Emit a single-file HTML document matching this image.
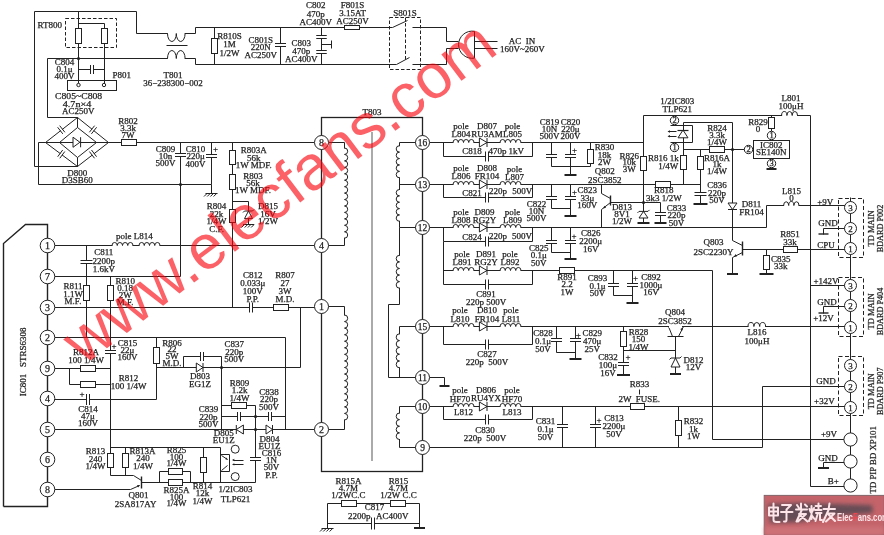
<!DOCTYPE html>
<html><head><meta charset="utf-8"><title>schematic</title>
<style>
html,body{margin:0;padding:0;background:#fff;width:884px;height:535px;overflow:hidden}
svg{display:block;will-change:transform}
</style></head><body>
<svg width="884" height="535" viewBox="0 0 884 535">
<rect width="884" height="535" fill="#fff"/>
<g fill="none" stroke="#222" stroke-width="1" stroke-linecap="butt" stroke-linejoin="miter">
<polyline points="77.5,166.5 34.5,166.5 34.5,11.5 136.5,11.5 136.5,33.5 195.5,33.5 195.5,27.5 392.5,27.5"/>
<polyline points="47.5,58.5 47.5,117.5 77.5,117.5"/>
<polyline points="47.5,58.5 195.5,58.5 195.5,64.5 396.5,64.5"/>
<polyline points="166.5,45.5 187.5,45.5"/>
<rect x="65.5" y="18.5" width="51" height="29" fill="none" stroke-dasharray="3.5,2"/>
<polyline points="78.5,11.5 78.5,85.5"/>
<polyline points="78.5,23.5 104.5,23.5 104.5,85.5"/>
<polyline points="78.5,69.5 104.5,69.5"/>
<polyline points="214.5,27.5 214.5,64.5"/>
<polyline points="280.5,27.5 280.5,64.5"/>
<polyline points="321.5,27.5 321.5,64.5"/>
<polyline points="321.5,44.5 331.5,44.5"/>
<polyline points="331.5,40.5 331.5,48.5"/>
<polyline points="412.5,27.5 446.5,27.5 446.5,41.5 458.5,41.5"/>
<polyline points="412.5,64.5 446.5,64.5 446.5,48.5 458.5,48.5"/>
<polyline points="392.5,27.5 407.5,20.5"/>
<polyline points="396.5,64.5 409.5,57.5"/>
<rect x="389.5" y="17.5" width="31" height="52" fill="none" stroke-dasharray="3.5,2"/>
<polyline points="405.5,17.5 405.5,60.5" stroke-dasharray="3.5,2"/>
<polyline points="474.5,41.5 497.5,41.5"/>
<polyline points="474.5,48.5 497.5,48.5"/>
<polyline points="77.5,117.5 45.5,142.5 77.5,166.5 108.5,142.5 77.5,117.5"/>
<polyline points="77.5,127.5 59.5,142.5 77.5,157.5 96.5,142.5 77.5,127.5"/>
<polyline points="77.5,117.5 77.5,127.5"/>
<polyline points="77.5,157.5 77.5,166.5"/>
<polyline points="45.5,142.5 108.5,142.5"/>
<polyline points="45.5,142.5 38.5,142.5 38.5,184.5 211.5,184.5 211.5,193.5"/>
<polyline points="108.5,142.5 314.5,142.5"/>
<polyline points="180.5,142.5 180.5,276.5"/>
<polyline points="211.5,142.5 211.5,184.5"/>
<polyline points="232.5,142.5 232.5,307.5"/>
<polyline points="232.5,201.5 248.5,201.5 248.5,224.5"/>
<rect x="321.5" y="117.5" width="101" height="354" fill="none" stroke-width="1.3"/>
<line x1="372" y1="132" x2="372" y2="461" stroke="#aaa" stroke-width="2"/>
<polyline points="328.5,142.5 344.5,142.5 344.5,245.5 328.5,245.5"/>
<polyline points="328.5,306.5 344.5,306.5 344.5,429.5 328.5,429.5"/>
<polyline points="416.5,142.5 399.5,142.5 399.5,227.5 416.5,227.5"/>
<polyline points="399.5,184.5 416.5,184.5"/>
<polyline points="399.5,227.5 399.5,304.5 388.5,304.5 388.5,377.5 416.5,377.5"/>
<polyline points="416.5,326.5 399.5,326.5 399.5,377.5"/>
<polyline points="416.5,406.5 399.5,406.5 399.5,447.5 416.5,447.5"/>
<polyline points="429.5,142.5 643.5,142.5"/>
<polyline points="443.5,142.5 443.5,156.5 532.5,156.5 532.5,142.5"/>
<polyline points="429.5,184.5 700.5,184.5"/>
<polyline points="443.5,184.5 443.5,197.5 532.5,197.5 532.5,184.5"/>
<polyline points="429.5,227.5 766.5,227.5"/>
<polyline points="443.5,227.5 443.5,241.5 532.5,241.5 532.5,227.5"/>
<polyline points="443.5,241.5 443.5,284.5"/>
<polyline points="443.5,270.5 712.5,270.5 712.5,439.5 844.5,439.5"/>
<polyline points="443.5,284.5 532.5,284.5 532.5,270.5"/>
<polyline points="429.5,326.5 845.5,326.5"/>
<polyline points="443.5,326.5 443.5,344.5 532.5,344.5 532.5,326.5"/>
<polyline points="429.5,406.5 845.5,406.5"/>
<polyline points="443.5,406.5 443.5,419.5 532.5,419.5 532.5,406.5"/>
<polyline points="429.5,377.5 444.5,377.5 444.5,386.5"/>
<polyline points="429.5,447.5 762.5,447.5 762.5,386.5 845.5,386.5"/>
<polyline points="551.5,142.5 551.5,166.5 590.5,166.5"/>
<polyline points="570.5,142.5 570.5,175.5"/>
<polyline points="590.5,142.5 590.5,166.5"/>
<polyline points="551.5,184.5 551.5,208.5 570.5,208.5"/>
<polyline points="570.5,184.5 570.5,216.5"/>
<polyline points="551.5,227.5 551.5,252.5 570.5,252.5"/>
<polyline points="570.5,227.5 570.5,259.5"/>
<polyline points="613.5,270.5 613.5,295.5 632.5,295.5"/>
<polyline points="632.5,270.5 632.5,303.5"/>
<polyline points="556.5,326.5 556.5,352.5 575.5,352.5"/>
<polyline points="575.5,326.5 575.5,359.5"/>
<polyline points="623.5,326.5 623.5,375.5"/>
<polyline points="623.5,350.5 675.5,350.5"/>
<polyline points="668.5,326.5 672.5,336.5"/>
<polyline points="678.5,336.5 683.5,326.5"/>
<polyline points="667.5,336.5 683.5,336.5"/>
<polyline points="675.5,336.5 675.5,374.5"/>
<polyline points="562.5,406.5 562.5,447.5"/>
<polyline points="595.5,406.5 595.5,447.5"/>
<polyline points="678.5,406.5 678.5,447.5"/>
<polyline points="639.5,389.5 639.5,394.5"/>
<polyline points="643.5,115.5 810.5,115.5 810.5,486.5 844.5,486.5"/>
<polyline points="643.5,115.5 643.5,202.5 643.5,223.5"/>
<polyline points="601.5,184.5 601.5,193.5 610.5,198.5"/>
<polyline points="610.5,195.5 610.5,205.5" stroke-width="1.4"/>
<polyline points="610.5,202.5 601.5,209.5 601.5,227.5"/>
<polyline points="610.5,202.5 660.5,202.5 660.5,223.5"/>
<polyline points="683.5,122.5 732.5,122.5 732.5,240.5"/>
<polyline points="732.5,257.5 732.5,274.5"/>
<polyline points="683.5,122.5 683.5,184.5"/>
<polyline points="683.5,149.5 748.5,149.5"/>
<polyline points="700.5,149.5 700.5,204.5"/>
<polyline points="670.5,125.5 692.5,125.5 692.5,142.5 670.5,142.5"/>
<polyline points="676.5,131.5 668.5,131.5"/>
<polyline points="676.5,136.5 668.5,136.5"/>
<polyline points="771.5,115.5 771.5,131.5"/>
<polyline points="771.5,167.5 771.5,169.5"/>
<polyline points="766.5,227.5 766.5,205.5 845.5,205.5"/>
<polyline points="732.5,240.5 742.5,245.5"/>
<polyline points="742.5,241.5 742.5,255.5" stroke-width="1.4"/>
<polyline points="742.5,252.5 732.5,257.5"/>
<polyline points="742.5,249.5 845.5,249.5"/>
<polyline points="766.5,249.5 766.5,274.5"/>
<polyline points="850.5,197.5 850.5,486.5"/>
<rect x="838.5" y="198.5" width="25" height="59" fill="none" stroke-dasharray="4,2.5"/>
<rect x="838.5" y="277.5" width="25" height="59" fill="none" stroke-dasharray="4,2.5"/>
<rect x="838.5" y="356.5" width="25" height="59" fill="none" stroke-dasharray="4,2.5"/>
<polyline points="810.5,285.5 845.5,285.5"/>
<polyline points="845.5,228.5 823.5,228.5 823.5,234.5"/>
<polyline points="845.5,306.5 823.5,306.5 823.5,313.5"/>
<polyline points="844.5,462.5 823.5,462.5 823.5,468.5"/>
<polyline points="3.5,506.5 3.5,243.5 25.5,224.5 47.5,224.5 47.5,506.5 3.5,506.5" stroke-width="1.4"/>
<polyline points="54.5,245.5 314.5,245.5"/>
<polyline points="86.5,245.5 86.5,337.5"/>
<polyline points="54.5,276.5 180.5,276.5"/>
<polyline points="110.5,276.5 110.5,475.5"/>
<polyline points="54.5,307.5 314.5,307.5"/>
<polyline points="300.5,307.5 300.5,367.5"/>
<polyline points="54.5,337.5 285.5,337.5 285.5,429.5"/>
<polyline points="156.5,337.5 156.5,399.5"/>
<polyline points="54.5,368.5 110.5,368.5"/>
<polyline points="69.5,368.5 69.5,384.5 110.5,384.5"/>
<polyline points="54.5,399.5 156.5,399.5"/>
<polyline points="54.5,429.5 314.5,429.5"/>
<polyline points="156.5,367.5 300.5,367.5"/>
<polyline points="183.5,367.5 183.5,356.5 221.5,356.5 221.5,429.5"/>
<polyline points="221.5,405.5 255.5,405.5 255.5,482.5"/>
<polyline points="221.5,416.5 285.5,416.5"/>
<polyline points="54.5,489.5 130.5,489.5 139.5,485.5"/>
<polyline points="141.5,476.5 141.5,488.5" stroke-width="1.4"/>
<polyline points="110.5,475.5 133.5,475.5 141.5,480.5"/>
<polyline points="125.5,447.5 125.5,475.5"/>
<polyline points="110.5,447.5 220.5,447.5 220.5,482.5"/>
<polyline points="141.5,482.5 255.5,482.5"/>
<polyline points="159.5,482.5 159.5,471.5 190.5,471.5 190.5,482.5"/>
<polyline points="203.5,447.5 203.5,482.5"/>
<polyline points="220.5,454.5 229.5,454.5"/>
<polyline points="220.5,471.5 229.5,471.5"/>
<polyline points="229.5,454.5 229.5,471.5"/>
<polyline points="221.5,455.5 227.5,459.5"/>
<polyline points="221.5,470.5 227.5,465.5"/>
<polyline points="243.5,460.5 233.5,460.5"/>
<polyline points="243.5,464.5 233.5,464.5"/>
<polyline points="327.5,528.5 327.5,503.5 419.5,503.5 419.5,528.5"/>
<polyline points="327.5,523.5 419.5,523.5"/>
<rect x="167.8" y="32" width="16.9" height="3" fill="#fff" stroke="none"/>
<path d="M167.5,33.5 A4.4,8 0 0 0 176.3,33.5 A4.4,8 0 0 0 185.1,33.5" fill="none"/>
<rect x="167.8" y="57" width="16.9" height="3" fill="#fff" stroke="none"/>
<path d="M167.5,58.5 A4.4,8 0 0 1 176.3,58.5 A4.4,8 0 0 1 185.1,58.5" fill="none"/>
<rect x="75.5" y="28.5" width="6" height="15" fill="#fff"/>
<rect x="101.5" y="28.5" width="6" height="15" fill="#fff"/>
<circle cx="78.5" cy="58.5" r="1.6" fill="#222" stroke="none"/>
<rect x="91" y="64" width="2" height="11" fill="#fff" stroke="none"/>
<polyline points="90.5,65 90.5,74"/>
<polyline points="93.5,65 93.5,74"/>
<rect x="67.5" y="80.5" width="49" height="10" fill="none"/>
<circle cx="78.5" cy="85" r="1.7" fill="#fff"/>
<circle cx="104" cy="85" r="1.7" fill="#fff"/>
<rect x="211.5" y="38.5" width="6" height="15" fill="#fff"/>
<rect x="274" y="44" width="13" height="2" fill="#fff" stroke="none"/>
<polyline points="275,43.5 286,43.5"/>
<polyline points="275,46.5 286,46.5"/>
<rect x="315.25" y="36" width="12.5" height="2" fill="#fff" stroke="none"/>
<polyline points="316.25,35.5 326.75,35.5"/>
<polyline points="316.25,38.5 326.75,38.5"/>
<rect x="315.25" y="51" width="12.5" height="2" fill="#fff" stroke="none"/>
<polyline points="316.25,50.5 326.75,50.5"/>
<polyline points="316.25,53.5 326.75,53.5"/>
<rect x="344.5" y="25.5" width="15" height="4" fill="#fff"/>
<path d="M474.5,31.3 A13.6,13.6 0 1 0 474.5,58.1 Z" fill="#fff"/>
<polygon points="73,137.2 73,147.3 79.9,142.25" fill="#fff"/>
<polyline points="80.6,137.2 80.6,147.3"/>
<polygon points="64.85,132.93 63.43,134.03 57.65,126.62 59.07,125.52" fill="#fff" stroke="none"/>
<polyline points="64.86,132.29 59.69,125.66"/>
<polyline points="62.81,133.89 57.64,127.26"/>
<polygon points="95.21,125.53 96.62,126.65 90.79,134.02 89.38,132.9" fill="#fff" stroke="none"/>
<polyline points="94.59,125.68 89.37,132.26"/>
<polyline points="96.63,127.29 91.41,133.87"/>
<polygon points="63.33,149.81 64.77,150.89 59.17,158.44 57.73,157.36" fill="#fff" stroke="none"/>
<polyline points="62.71,149.98 57.7,156.72"/>
<polyline points="64.8,151.53 59.79,158.27"/>
<polygon points="96.55,157.34 95.11,158.42 89.45,150.91 90.89,149.83" fill="#fff" stroke="none"/>
<polyline points="96.57,156.7 91.51,149.99"/>
<polyline points="94.49,158.26 89.43,151.55"/>
<polyline points="205.5,193.5 217.5,193.5"/>
<polyline points="207,193.5 204,196.5"/>
<polyline points="210.2,193.5 207.2,196.5"/>
<polyline points="213.4,193.5 210.4,196.5"/>
<polyline points="216.6,193.5 213.6,196.5"/>
<rect x="121.5" y="139.5" width="15" height="6" fill="#fff"/>
<rect x="174" y="154" width="13" height="2" fill="#fff" stroke="none"/>
<polyline points="175,153.5 186,153.5"/>
<polyline points="175,156.5 186,156.5"/>
<circle cx="180.5" cy="184.5" r="1.6" fill="#222" stroke="none"/>
<rect x="205" y="155" width="13" height="2" fill="#fff" stroke="none"/>
<polyline points="206,154.5 217,154.5"/>
<polyline points="206,157.5 217,157.5"/>
<rect x="229.5" y="150.5" width="6" height="14" fill="#fff"/>
<rect x="229.5" y="174.5" width="6" height="15" fill="#fff"/>
<rect x="229.5" y="209.5" width="6" height="13" fill="#fff"/>
<polygon points="244.5,218.6 252.5,218.6 248.5,211" fill="#fff"/>
<polyline points="243,212.5 244.5,211 252.5,211 254,209.5" fill="none"/>
<polyline points="243,224.5 254,224.5"/>
<polyline points="244.5,224.5 241.5,227.5"/>
<polyline points="247.7,224.5 244.7,227.5"/>
<polyline points="250.9,224.5 247.9,227.5"/>
<polyline points="254.1,224.5 251.1,227.5"/>
<rect x="343.7" y="148.5" width="1.6" height="89.2" fill="#fff" stroke="none"/>
<path d="M344.5,148 A3.2,3.22 0 0 1 344.5,154.44 A3.2,3.22 0 0 1 344.5,160.89 A3.2,3.22 0 0 1 344.5,167.33 A3.2,3.22 0 0 1 344.5,173.77 A3.2,3.22 0 0 1 344.5,180.21 A3.2,3.22 0 0 1 344.5,186.66 A3.2,3.22 0 0 1 344.5,193.1 A3.2,3.22 0 0 1 344.5,199.54 A3.2,3.22 0 0 1 344.5,205.99 A3.2,3.22 0 0 1 344.5,212.43 A3.2,3.22 0 0 1 344.5,218.87 A3.2,3.22 0 0 1 344.5,225.31 A3.2,3.22 0 0 1 344.5,231.76 A3.2,3.22 0 0 1 344.5,238.2" fill="none"/>
<rect x="343.7" y="315.5" width="1.6" height="104" fill="#fff" stroke="none"/>
<path d="M344.5,315 A3.2,3.28 0 0 1 344.5,321.56 A3.2,3.28 0 0 1 344.5,328.12 A3.2,3.28 0 0 1 344.5,334.69 A3.2,3.28 0 0 1 344.5,341.25 A3.2,3.28 0 0 1 344.5,347.81 A3.2,3.28 0 0 1 344.5,354.38 A3.2,3.28 0 0 1 344.5,360.94 A3.2,3.28 0 0 1 344.5,367.5 A3.2,3.28 0 0 1 344.5,374.06 A3.2,3.28 0 0 1 344.5,380.62 A3.2,3.28 0 0 1 344.5,387.19 A3.2,3.28 0 0 1 344.5,393.75 A3.2,3.28 0 0 1 344.5,400.31 A3.2,3.28 0 0 1 344.5,406.88 A3.2,3.28 0 0 1 344.5,413.44 A3.2,3.28 0 0 1 344.5,420" fill="none"/>
<rect x="398.7" y="146.2" width="1.6" height="31.1" fill="#fff" stroke="none"/>
<path d="M399.5,145.7 A3.3,3.21 0 0 0 399.5,152.12 A3.3,3.21 0 0 0 399.5,158.54 A3.3,3.21 0 0 0 399.5,164.96 A3.3,3.21 0 0 0 399.5,171.38 A3.3,3.21 0 0 0 399.5,177.8" fill="none"/>
<rect x="398.7" y="190" width="1.6" height="30.8" fill="#fff" stroke="none"/>
<path d="M399.5,189.5 A3.3,3.18 0 0 0 399.5,195.86 A3.3,3.18 0 0 0 399.5,202.22 A3.3,3.18 0 0 0 399.5,208.58 A3.3,3.18 0 0 0 399.5,214.94 A3.3,3.18 0 0 0 399.5,221.3" fill="none"/>
<rect x="398.7" y="255.8" width="1.6" height="31.9" fill="#fff" stroke="none"/>
<path d="M399.5,255.3 A3.3,3.29 0 0 0 399.5,261.88 A3.3,3.29 0 0 0 399.5,268.46 A3.3,3.29 0 0 0 399.5,275.04 A3.3,3.29 0 0 0 399.5,281.62 A3.3,3.29 0 0 0 399.5,288.2" fill="none"/>
<rect x="398.7" y="334.3" width="1.6" height="33" fill="#fff" stroke="none"/>
<path d="M399.5,333.8 A3.3,3.4 0 0 0 399.5,340.6 A3.3,3.4 0 0 0 399.5,347.4 A3.3,3.4 0 0 0 399.5,354.2 A3.3,3.4 0 0 0 399.5,361 A3.3,3.4 0 0 0 399.5,367.8" fill="none"/>
<rect x="398.7" y="413.5" width="1.6" height="25.5" fill="#fff" stroke="none"/>
<path d="M399.5,413 A3.3,3.31 0 0 0 399.5,419.62 A3.3,3.31 0 0 0 399.5,426.25 A3.3,3.31 0 0 0 399.5,432.88 A3.3,3.31 0 0 0 399.5,439.5" fill="none"/>
<circle cx="321.5" cy="142.5" r="7" fill="#fff"/>
<circle cx="321.5" cy="245.5" r="7" fill="#fff"/>
<circle cx="321.5" cy="306.5" r="7" fill="#fff"/>
<circle cx="321.5" cy="429.5" r="7" fill="#fff"/>
<circle cx="422.5" cy="142.5" r="7" fill="#fff"/>
<circle cx="422.5" cy="184.5" r="7" fill="#fff"/>
<circle cx="422.5" cy="227.5" r="7" fill="#fff"/>
<circle cx="422.5" cy="326.5" r="7" fill="#fff"/>
<circle cx="422.5" cy="377.5" r="7" fill="#fff"/>
<circle cx="422.5" cy="406.5" r="7" fill="#fff"/>
<circle cx="422.5" cy="447.5" r="7" fill="#fff"/>
<rect x="453.5" y="141.7" width="20" height="1.6" fill="#fff" stroke="none"/>
<path d="M453,142.5 A2.62,3 0 0 1 458.25,142.5 A2.62,3 0 0 1 463.5,142.5 A2.62,3 0 0 1 468.75,142.5 A2.62,3 0 0 1 474,142.5" fill="none"/>
<polygon points="479.4,138 479.4,147 487,142.5" fill="#fff"/>
<polyline points="487,138 487,147"/>
<rect x="500.5" y="141.7" width="20" height="1.6" fill="#fff" stroke="none"/>
<path d="M500,142.5 A2.62,3 0 0 1 505.25,142.5 A2.62,3 0 0 1 510.5,142.5 A2.62,3 0 0 1 515.75,142.5 A2.62,3 0 0 1 521,142.5" fill="none"/>
<rect x="486" y="150.5" width="2" height="12" fill="#fff" stroke="none"/>
<polyline points="485.5,151.5 485.5,161.5"/>
<polyline points="488.5,151.5 488.5,161.5"/>
<rect x="453.5" y="183.7" width="20" height="1.6" fill="#fff" stroke="none"/>
<path d="M453,184.5 A2.62,3 0 0 1 458.25,184.5 A2.62,3 0 0 1 463.5,184.5 A2.62,3 0 0 1 468.75,184.5 A2.62,3 0 0 1 474,184.5" fill="none"/>
<polygon points="479.4,180 479.4,189 487,184.5" fill="#fff"/>
<polyline points="487,180 487,189"/>
<rect x="500.5" y="183.7" width="20" height="1.6" fill="#fff" stroke="none"/>
<path d="M500,184.5 A2.62,3 0 0 1 505.25,184.5 A2.62,3 0 0 1 510.5,184.5 A2.62,3 0 0 1 515.75,184.5 A2.62,3 0 0 1 521,184.5" fill="none"/>
<rect x="486" y="191.5" width="2" height="12" fill="#fff" stroke="none"/>
<polyline points="485.5,192.5 485.5,202.5"/>
<polyline points="488.5,192.5 488.5,202.5"/>
<rect x="453.5" y="226.7" width="20" height="1.6" fill="#fff" stroke="none"/>
<path d="M453,227.5 A2.62,3 0 0 1 458.25,227.5 A2.62,3 0 0 1 463.5,227.5 A2.62,3 0 0 1 468.75,227.5 A2.62,3 0 0 1 474,227.5" fill="none"/>
<polygon points="479.4,223 479.4,232 487,227.5" fill="#fff"/>
<polyline points="487,223 487,232"/>
<rect x="500.5" y="226.7" width="20" height="1.6" fill="#fff" stroke="none"/>
<path d="M500,227.5 A2.62,3 0 0 1 505.25,227.5 A2.62,3 0 0 1 510.5,227.5 A2.62,3 0 0 1 515.75,227.5 A2.62,3 0 0 1 521,227.5" fill="none"/>
<rect x="486" y="235.5" width="2" height="12" fill="#fff" stroke="none"/>
<polyline points="485.5,236.5 485.5,246.5"/>
<polyline points="488.5,236.5 488.5,246.5"/>
<rect x="453.5" y="269.7" width="20" height="1.6" fill="#fff" stroke="none"/>
<path d="M453,270.5 A2.62,3 0 0 1 458.25,270.5 A2.62,3 0 0 1 463.5,270.5 A2.62,3 0 0 1 468.75,270.5 A2.62,3 0 0 1 474,270.5" fill="none"/>
<polygon points="479.4,266 479.4,275 487,270.5" fill="#fff"/>
<polyline points="487,266 487,275"/>
<rect x="500.5" y="269.7" width="20" height="1.6" fill="#fff" stroke="none"/>
<path d="M500,270.5 A2.62,3 0 0 1 505.25,270.5 A2.62,3 0 0 1 510.5,270.5 A2.62,3 0 0 1 515.75,270.5 A2.62,3 0 0 1 521,270.5" fill="none"/>
<rect x="486" y="278.5" width="2" height="12" fill="#fff" stroke="none"/>
<polyline points="485.5,279.5 485.5,289.5"/>
<polyline points="488.5,279.5 488.5,289.5"/>
<rect x="453.5" y="325.7" width="20" height="1.6" fill="#fff" stroke="none"/>
<path d="M453,326.5 A2.62,3 0 0 1 458.25,326.5 A2.62,3 0 0 1 463.5,326.5 A2.62,3 0 0 1 468.75,326.5 A2.62,3 0 0 1 474,326.5" fill="none"/>
<polygon points="479.4,322 479.4,331 487,326.5" fill="#fff"/>
<polyline points="487,322 487,331"/>
<rect x="500.5" y="325.7" width="20" height="1.6" fill="#fff" stroke="none"/>
<path d="M500,326.5 A2.62,3 0 0 1 505.25,326.5 A2.62,3 0 0 1 510.5,326.5 A2.62,3 0 0 1 515.75,326.5 A2.62,3 0 0 1 521,326.5" fill="none"/>
<rect x="486" y="338.5" width="2" height="12" fill="#fff" stroke="none"/>
<polyline points="485.5,339.5 485.5,349.5"/>
<polyline points="488.5,339.5 488.5,349.5"/>
<rect x="453.5" y="405.7" width="20" height="1.6" fill="#fff" stroke="none"/>
<path d="M453,406.5 A2.62,3 0 0 1 458.25,406.5 A2.62,3 0 0 1 463.5,406.5 A2.62,3 0 0 1 468.75,406.5 A2.62,3 0 0 1 474,406.5" fill="none"/>
<polygon points="479.4,402 479.4,411 487,406.5" fill="#fff"/>
<polyline points="487,402 487,411"/>
<rect x="500.5" y="405.7" width="20" height="1.6" fill="#fff" stroke="none"/>
<path d="M500,406.5 A2.62,3 0 0 1 505.25,406.5 A2.62,3 0 0 1 510.5,406.5 A2.62,3 0 0 1 515.75,406.5 A2.62,3 0 0 1 521,406.5" fill="none"/>
<rect x="486" y="413.5" width="2" height="12" fill="#fff" stroke="none"/>
<polyline points="485.5,414.5 485.5,424.5"/>
<polyline points="488.5,414.5 488.5,424.5"/>
<polyline points="439.5,386 449.5,386" stroke-width="2"/>
<rect x="545" y="155" width="13" height="2" fill="#fff" stroke="none"/>
<polyline points="546,154.5 557,154.5"/>
<polyline points="546,157.5 557,157.5"/>
<rect x="564" y="155" width="13" height="2" fill="#fff" stroke="none"/>
<polyline points="565,154.5 576,154.5"/>
<polyline points="565,157.5 576,157.5"/>
<polyline points="564.5,175 576.5,175" stroke-width="2"/>
<rect x="587.5" y="149.5" width="6" height="14" fill="#fff"/>
<rect x="545" y="197" width="13" height="2" fill="#fff" stroke="none"/>
<polyline points="546,196.5 557,196.5"/>
<polyline points="546,199.5 557,199.5"/>
<rect x="564" y="197" width="13" height="2" fill="#fff" stroke="none"/>
<polyline points="565,196.5 576,196.5"/>
<polyline points="565,199.5 576,199.5"/>
<polyline points="564.5,216 576.5,216" stroke-width="2"/>
<rect x="545" y="241" width="13" height="2" fill="#fff" stroke="none"/>
<polyline points="546,240.5 557,240.5"/>
<polyline points="546,243.5 557,243.5"/>
<rect x="564" y="241" width="13" height="2" fill="#fff" stroke="none"/>
<polyline points="565,240.5 576,240.5"/>
<polyline points="565,243.5 576,243.5"/>
<polyline points="564.5,259 576.5,259" stroke-width="2"/>
<rect x="559.5" y="267.5" width="15" height="6" fill="#fff"/>
<rect x="607" y="284" width="13" height="2" fill="#fff" stroke="none"/>
<polyline points="608,283.5 619,283.5"/>
<polyline points="608,286.5 619,286.5"/>
<rect x="626" y="284" width="13" height="2" fill="#fff" stroke="none"/>
<polyline points="627,283.5 638,283.5"/>
<polyline points="627,286.5 638,286.5"/>
<polyline points="626.5,303 638.5,303" stroke-width="2"/>
<rect x="550" y="339" width="13" height="2" fill="#fff" stroke="none"/>
<polyline points="551,338.5 562,338.5"/>
<polyline points="551,341.5 562,341.5"/>
<rect x="569" y="339" width="13" height="2" fill="#fff" stroke="none"/>
<polyline points="570,338.5 581,338.5"/>
<polyline points="570,341.5 581,341.5"/>
<polyline points="569.5,359 581.5,359" stroke-width="2"/>
<rect x="620.5" y="331.5" width="6" height="15" fill="#fff"/>
<rect x="617" y="363" width="13" height="2" fill="#fff" stroke="none"/>
<polyline points="618,362.5 629,362.5"/>
<polyline points="618,365.5 629,365.5"/>
<polyline points="617,375 630,375" stroke-width="2"/>
<rect x="669" y="325" width="13" height="3" fill="#fff" stroke="none"/>
<polygon points="682.6,327.4 682.62,330.4 680.26,329.28" fill="#222" stroke="none"/>
<polygon points="671,367 680,367 675.5,358" fill="#fff"/>
<polyline points="669.5,359.5 671,358 680,358 681.5,356.5" fill="none"/>
<polyline points="670,374 681,374" stroke-width="2"/>
<rect x="748.5" y="325.7" width="16.6" height="1.6" fill="#fff" stroke="none"/>
<path d="M748,326.5 A2.93,4 0 0 1 753.87,326.5 A2.93,4 0 0 1 759.73,326.5 A2.93,4 0 0 1 765.6,326.5" fill="none"/>
<rect x="556" y="425" width="13" height="2" fill="#fff" stroke="none"/>
<polyline points="557,424.5 568,424.5"/>
<polyline points="557,427.5 568,427.5"/>
<rect x="589" y="425" width="13" height="2" fill="#fff" stroke="none"/>
<polyline points="590,424.5 601,424.5"/>
<polyline points="590,427.5 601,427.5"/>
<rect x="630.5" y="403.5" width="14" height="6" fill="#fff"/>
<rect x="675.5" y="420.5" width="6" height="15" fill="#fff"/>
<rect x="640.5" y="156.5" width="6" height="14" fill="#fff"/>
<circle cx="643.5" cy="202.5" r="1.6" fill="#222" stroke="none"/>
<polygon points="639,218 648,218 643.5,211.4" fill="#fff"/>
<polyline points="637.5,212.9 639,211.4 648,211.4 649.5,209.9" fill="none"/>
<polyline points="637.5,223 649.5,223" stroke-width="2"/>
<polygon points="603.2,208.6 604.37,205.84 606.09,207.8" fill="#222" stroke="none"/>
<rect x="654" y="213" width="13" height="2" fill="#fff" stroke="none"/>
<polyline points="655,212.5 666,212.5"/>
<polyline points="655,215.5 666,215.5"/>
<polyline points="654.5,223 666.5,223" stroke-width="2"/>
<rect x="655.5" y="181.5" width="15" height="6" fill="#fff"/>
<rect x="680.5" y="155.5" width="6" height="14" fill="#fff"/>
<rect x="709.5" y="146.5" width="15" height="6" fill="#fff"/>
<circle cx="732.5" cy="149.5" r="1.6" fill="#222" stroke="none"/>
<rect x="697.5" y="156.5" width="6" height="13" fill="#fff"/>
<rect x="693.5" y="193" width="14" height="2" fill="#fff" stroke="none"/>
<polyline points="694.5,192.5 706.5,192.5"/>
<polyline points="694.5,195.5 706.5,195.5"/>
<polyline points="693.5,204 707.5,204" stroke-width="2"/>
<polygon points="678,137.8 688,137.8 683,130" fill="#fff"/>
<polyline points="677.5,130.5 688.5,130.5" stroke-width="1.2"/>
<polygon points="667.5,131.5 670.02,130.28 670.02,132.72" fill="#222" stroke="none"/>
<polygon points="667.5,136.3 670.02,135.08 670.02,137.52" fill="#222" stroke="none"/>
<circle cx="674.5" cy="120.5" r="4.2" fill="#fff"/>
<circle cx="674.5" cy="147.5" r="4.2" fill="#fff"/>
<polygon points="728,203 737,203 732.5,209.5" fill="#fff"/>
<polyline points="728,209.5 737,209.5"/>
<rect x="768.5" y="117.5" width="6" height="11" fill="#fff"/>
<rect x="753.5" y="140.5" width="36" height="18" fill="#fff"/>
<circle cx="771.5" cy="135.5" r="4.2" fill="#fff"/>
<circle cx="748.5" cy="149.5" r="4.2" fill="#fff"/>
<circle cx="771.5" cy="163.5" r="4.2" fill="#fff"/>
<polyline points="766.5,169 776.5,169" stroke-width="2"/>
<rect x="782.1" y="114.7" width="14.9" height="1.6" fill="#fff" stroke="none"/>
<path d="M781.6,115.5 A2.65,4 0 0 1 786.9,115.5 A2.65,4 0 0 1 792.2,115.5 A2.65,4 0 0 1 797.5,115.5" fill="none"/>
<rect x="784.1" y="204.7" width="14.4" height="1.6" fill="#fff" stroke="none"/>
<path d="M783.6,205.5 A2.57,4 0 0 1 788.73,205.5 A2.57,4 0 0 1 793.87,205.5 A2.57,4 0 0 1 799,205.5" fill="none"/>
<polygon points="734,256.6 735.69,254.12 736.99,256.38" fill="#222" stroke="none"/>
<polyline points="727,274 738,274" stroke-width="2"/>
<rect x="783.5" y="246.5" width="14" height="6" fill="#fff"/>
<rect x="763.5" y="255.5" width="6" height="14" fill="#fff"/>
<polyline points="759.5,274 773.5,274" stroke-width="2"/>
<circle cx="850.5" cy="207.5" r="6" fill="#fff"/>
<circle cx="850.5" cy="228.5" r="6" fill="#fff"/>
<circle cx="850.5" cy="248.5" r="6" fill="#fff"/>
<circle cx="850.5" cy="285.5" r="6" fill="#fff"/>
<circle cx="850.5" cy="305.5" r="6" fill="#fff"/>
<circle cx="850.5" cy="327.5" r="6" fill="#fff"/>
<circle cx="850.5" cy="365.5" r="6" fill="#fff"/>
<circle cx="850.5" cy="386.5" r="6" fill="#fff"/>
<circle cx="850.5" cy="407.5" r="6" fill="#fff"/>
<circle cx="850.5" cy="439.5" r="6.6" fill="#fff"/>
<circle cx="850.5" cy="461.5" r="6.6" fill="#fff"/>
<circle cx="850.5" cy="485.5" r="6.6" fill="#fff"/>
<polyline points="818.5,234 828.5,234" stroke-width="1.4"/>
<polyline points="818.5,313 828.5,313" stroke-width="1.4"/>
<polyline points="818,468 829,468" stroke-width="2"/>
<rect x="112.5" y="244.7" width="20" height="1.6" fill="#fff" stroke="none"/>
<path d="M112,245.5 A2.62,3 0 0 1 117.25,245.5 A2.62,3 0 0 1 122.5,245.5 A2.62,3 0 0 1 127.75,245.5 A2.62,3 0 0 1 133,245.5" fill="none"/>
<rect x="139.5" y="244.7" width="20" height="1.6" fill="#fff" stroke="none"/>
<path d="M139,245.5 A2.62,3 0 0 1 144.25,245.5 A2.62,3 0 0 1 149.5,245.5 A2.62,3 0 0 1 154.75,245.5 A2.62,3 0 0 1 160,245.5" fill="none"/>
<rect x="79.5" y="261" width="14" height="2" fill="#fff" stroke="none"/>
<polyline points="80.5,260.5 92.5,260.5"/>
<polyline points="80.5,263.5 92.5,263.5"/>
<rect x="83.5" y="285.5" width="6" height="15" fill="#fff"/>
<rect x="107.5" y="285.5" width="6" height="15" fill="#fff"/>
<rect x="104" y="351" width="13" height="2" fill="#fff" stroke="none"/>
<polyline points="105,350.5 116,350.5"/>
<polyline points="105,353.5 116,353.5"/>
<rect x="250" y="301.5" width="2" height="12" fill="#fff" stroke="none"/>
<polyline points="249.5,302.5 249.5,312.5"/>
<polyline points="252.5,302.5 252.5,312.5"/>
<rect x="273.5" y="304.5" width="15" height="6" fill="#fff"/>
<rect x="153.5" y="347.5" width="6" height="16" fill="#fff"/>
<rect x="80.5" y="365.5" width="15" height="6" fill="#fff"/>
<rect x="80.5" y="381.5" width="15" height="6" fill="#fff"/>
<rect x="87" y="393" width="2" height="13" fill="#fff" stroke="none"/>
<polyline points="86.5,394 86.5,405"/>
<polyline points="89.5,394 89.5,405"/>
<polygon points="243.4,425 243.4,434 236.3,429.5" fill="#fff"/>
<polyline points="236.3,425 236.3,434"/>
<polygon points="266,425 266,434 272.5,429.5" fill="#fff"/>
<polyline points="272.5,425 272.5,434"/>
<circle cx="255.5" cy="429.5" r="1.6" fill="#222" stroke="none"/>
<polygon points="196.3,363 196.3,372 203,367.5" fill="#fff"/>
<polyline points="203,363 203,372"/>
<rect x="201" y="351" width="2" height="11" fill="#fff" stroke="none"/>
<polyline points="200.5,352 200.5,361"/>
<polyline points="203.5,352 203.5,361"/>
<circle cx="221.5" cy="367.5" r="1.6" fill="#222" stroke="none"/>
<rect x="231.5" y="402.5" width="15" height="6" fill="#fff"/>
<rect x="238" y="411" width="2" height="11" fill="#fff" stroke="none"/>
<polyline points="237.5,412 237.5,421"/>
<polyline points="240.5,412 240.5,421"/>
<rect x="269" y="411" width="2" height="11" fill="#fff" stroke="none"/>
<polyline points="268.5,412 268.5,421"/>
<polyline points="271.5,412 271.5,421"/>
<circle cx="255.5" cy="416.5" r="1.6" fill="#222" stroke="none"/>
<rect x="249" y="458" width="13" height="2" fill="#fff" stroke="none"/>
<polyline points="250,457.5 261,457.5"/>
<polyline points="250,460.5 261,460.5"/>
<polygon points="140,485.2 138.05,487.48 137,485.09" fill="#222" stroke="none"/>
<rect x="107.5" y="453.5" width="6" height="14" fill="#fff"/>
<rect x="122.5" y="453.5" width="6" height="14" fill="#fff"/>
<rect x="168.5" y="468.5" width="14" height="6" fill="#fff"/>
<rect x="168.5" y="479.5" width="14" height="6" fill="#fff"/>
<rect x="200.5" y="457.5" width="6" height="15" fill="#fff"/>
<polygon points="227.8,459.8 225.24,459.37 226.54,457.53" fill="#222" stroke="none"/>
<circle cx="235.2" cy="449.2" r="4" fill="#fff"/>
<circle cx="235.2" cy="476.6" r="4" fill="#fff"/>
<polygon points="232,460 234.34,458.87 234.34,461.13" fill="#222" stroke="none"/>
<polygon points="232,464.4 234.34,463.27 234.34,465.53" fill="#222" stroke="none"/>
<circle cx="47.5" cy="245.5" r="7.3" fill="#fff"/>
<circle cx="47.5" cy="276.5" r="7.3" fill="#fff"/>
<circle cx="47.5" cy="307.5" r="7.3" fill="#fff"/>
<circle cx="47.5" cy="337.5" r="7.3" fill="#fff"/>
<circle cx="47.5" cy="368.5" r="7.3" fill="#fff"/>
<circle cx="47.5" cy="398.5" r="7.3" fill="#fff"/>
<circle cx="47.5" cy="429.5" r="7.3" fill="#fff"/>
<circle cx="47.5" cy="459.5" r="7.3" fill="#fff"/>
<circle cx="47.5" cy="489.5" r="7.3" fill="#fff"/>
<rect x="341.5" y="500.5" width="15" height="6" fill="#fff"/>
<rect x="390.5" y="500.5" width="15" height="6" fill="#fff"/>
<rect x="372" y="516.5" width="2" height="14" fill="#fff" stroke="none"/>
<polyline points="371.5,517.5 371.5,529.5"/>
<polyline points="374.5,517.5 374.5,529.5"/>
<polyline points="321.5,528.5 333.5,528.5"/>
<polyline points="323,528.5 320,531.5"/>
<polyline points="326.2,528.5 323.2,531.5"/>
<polyline points="329.4,528.5 326.4,531.5"/>
<polyline points="332.6,528.5 329.6,531.5"/>
<polyline points="414,528 425,528" stroke-width="2"/>
</g>
<g font-family="Liberation Serif, serif" fill="#1e1e1e" stroke="#1e1e1e" stroke-width="0.25">
<text x="215.5" y="152.06" text-anchor="middle" font-size="9">+</text>
<text x="321.5" y="145.9" text-anchor="middle" font-size="10">8</text>
<text x="321.5" y="248.9" text-anchor="middle" font-size="10">4</text>
<text x="321.5" y="309.9" text-anchor="middle" font-size="10">1</text>
<text x="321.5" y="432.9" text-anchor="middle" font-size="10">2</text>
<text x="422.5" y="145.73" text-anchor="middle" font-size="9.5">16</text>
<text x="422.5" y="187.73" text-anchor="middle" font-size="9.5">13</text>
<text x="422.5" y="230.73" text-anchor="middle" font-size="9.5">12</text>
<text x="422.5" y="329.73" text-anchor="middle" font-size="9.5">15</text>
<text x="422.5" y="380.73" text-anchor="middle" font-size="9.5">11</text>
<text x="422.5" y="409.73" text-anchor="middle" font-size="9.5">10</text>
<text x="422.5" y="450.73" text-anchor="middle" font-size="9.5">9</text>
<text x="574.5" y="152.56" text-anchor="middle" font-size="9">+</text>
<text x="574.5" y="194.56" text-anchor="middle" font-size="9">+</text>
<text x="574" y="239.06" text-anchor="middle" font-size="9">+</text>
<text x="635.6" y="281.06" text-anchor="middle" font-size="9">+</text>
<text x="578.4" y="338.06" text-anchor="middle" font-size="9">+</text>
<text x="628" y="360.06" text-anchor="middle" font-size="9">+</text>
<text x="599" y="423.06" text-anchor="middle" font-size="9">+</text>
<text x="674.5" y="123.39" text-anchor="middle" font-size="8.5">2</text>
<text x="674.5" y="150.39" text-anchor="middle" font-size="8.5">1</text>
<text x="771.5" y="138.39" text-anchor="middle" font-size="8.5">1</text>
<text x="748.5" y="152.39" text-anchor="middle" font-size="8.5">2</text>
<text x="771.5" y="166.39" text-anchor="middle" font-size="8.5">3</text>
<text x="850.5" y="210.56" text-anchor="middle" font-size="9">3</text>
<text x="850.5" y="231.56" text-anchor="middle" font-size="9">2</text>
<text x="850.5" y="251.56" text-anchor="middle" font-size="9">1</text>
<text x="850.5" y="288.56" text-anchor="middle" font-size="9">3</text>
<text x="850.5" y="308.56" text-anchor="middle" font-size="9">2</text>
<text x="850.5" y="330.56" text-anchor="middle" font-size="9">1</text>
<text x="850.5" y="368.56" text-anchor="middle" font-size="9">3</text>
<text x="850.5" y="389.56" text-anchor="middle" font-size="9">2</text>
<text x="850.5" y="410.56" text-anchor="middle" font-size="9">1</text>
<text x="114" y="349.46" text-anchor="middle" font-size="9">+</text>
<text x="82" y="397.06" text-anchor="middle" font-size="9">+</text>
<text x="47.5" y="248.9" text-anchor="middle" font-size="10">1</text>
<text x="47.5" y="279.9" text-anchor="middle" font-size="10">7</text>
<text x="47.5" y="310.9" text-anchor="middle" font-size="10">3</text>
<text x="47.5" y="340.9" text-anchor="middle" font-size="10">2</text>
<text x="47.5" y="371.9" text-anchor="middle" font-size="10">9</text>
<text x="47.5" y="401.9" text-anchor="middle" font-size="10">4</text>
<text x="47.5" y="432.9" text-anchor="middle" font-size="10">5</text>
<text x="47.5" y="462.9" text-anchor="middle" font-size="10">6</text>
<text x="47.5" y="492.9" text-anchor="middle" font-size="10">8</text>
<text x="37.5" y="28.06" text-anchor="start" font-size="9">RT800</text>
<text x="64.5" y="65.06" text-anchor="middle" font-size="9">C804</text>
<text x="64.5" y="72.26" text-anchor="middle" font-size="9">0.1μ</text>
<text x="64.5" y="79.46" text-anchor="middle" font-size="9">400V</text>
<text x="112.5" y="78.06" text-anchor="start" font-size="9">P801</text>
<text x="78.6" y="99.06" text-anchor="middle" font-size="9" textLength="47.2" lengthAdjust="spacingAndGlyphs">C805~C808</text>
<text x="77" y="106.56" text-anchor="middle" font-size="9" textLength="28.5" lengthAdjust="spacingAndGlyphs">4.7n×4</text>
<text x="78.2" y="114.06" text-anchor="middle" font-size="9">AC250V</text>
<text x="173" y="77.81" text-anchor="middle" font-size="9">T801</text>
<text x="173" y="85.56" text-anchor="middle" font-size="9">36−238300−002</text>
<text x="229.5" y="39.36" text-anchor="middle" font-size="9">R810S</text>
<text x="229.5" y="47.46" text-anchor="middle" font-size="9">1M</text>
<text x="229.5" y="55.56" text-anchor="middle" font-size="9">1/2W</text>
<text x="260.7" y="42.66" text-anchor="middle" font-size="9">C801S</text>
<text x="260.7" y="50.16" text-anchor="middle" font-size="9">220N</text>
<text x="260.7" y="57.66" text-anchor="middle" font-size="9">AC250V</text>
<text x="315.8" y="8.46" text-anchor="middle" font-size="9">C802</text>
<text x="315.8" y="16.66" text-anchor="middle" font-size="9">470p</text>
<text x="315.8" y="24.86" text-anchor="middle" font-size="9">AC400V</text>
<text x="352.5" y="8.46" text-anchor="middle" font-size="9">F801S</text>
<text x="352.5" y="16.16" text-anchor="middle" font-size="9">3.15AT</text>
<text x="352.5" y="23.86" text-anchor="middle" font-size="9">AC250V</text>
<text x="301.2" y="45.96" text-anchor="middle" font-size="9">C803</text>
<text x="301.2" y="53.96" text-anchor="middle" font-size="9">470p</text>
<text x="301.2" y="61.96" text-anchor="middle" font-size="9">AC400V</text>
<text x="405" y="15.56" text-anchor="middle" font-size="9">S801S</text>
<text x="508.7" y="44.06" text-anchor="start" font-size="9">AC  IN</text>
<text x="500" y="52.26" text-anchor="start" font-size="9">160V~260V</text>
<text x="128" y="124.06" text-anchor="middle" font-size="9">R802</text>
<text x="128" y="131.06" text-anchor="middle" font-size="9">3.3k</text>
<text x="128" y="138.06" text-anchor="middle" font-size="9">7W</text>
<text x="77.2" y="175.56" text-anchor="middle" font-size="9">D800</text>
<text x="77.2" y="182.56" text-anchor="middle" font-size="9">D3SB60</text>
<text x="165.5" y="151.56" text-anchor="middle" font-size="9">C809</text>
<text x="165.5" y="158.96" text-anchor="middle" font-size="9">10n</text>
<text x="165.5" y="166.36" text-anchor="middle" font-size="9">500V</text>
<text x="195.6" y="151.56" text-anchor="middle" font-size="9">C810</text>
<text x="195.6" y="159.06" text-anchor="middle" font-size="9">220μ</text>
<text x="195.6" y="166.56" text-anchor="middle" font-size="9">400V</text>
<text x="253.8" y="153.46" text-anchor="middle" font-size="9">R803A</text>
<text x="253.8" y="160.56" text-anchor="middle" font-size="9">56k</text>
<text x="253.8" y="167.66" text-anchor="middle" font-size="9">1W MDF.</text>
<text x="253" y="178.66" text-anchor="middle" font-size="9">R803</text>
<text x="253" y="186.06" text-anchor="middle" font-size="9">56k</text>
<text x="253" y="193.46" text-anchor="middle" font-size="9">1W MDF.</text>
<text x="216.6" y="209.06" text-anchor="middle" font-size="9">R804</text>
<text x="216.6" y="216.66" text-anchor="middle" font-size="9">22k</text>
<text x="216.6" y="224.26" text-anchor="middle" font-size="9">1/4W</text>
<text x="216.6" y="231.86" text-anchor="middle" font-size="9">C.F.</text>
<text x="268" y="209.06" text-anchor="middle" font-size="9">D815</text>
<text x="268" y="216.56" text-anchor="middle" font-size="9">16V</text>
<text x="268" y="224.06" text-anchor="middle" font-size="9">1/2W</text>
<text x="372" y="115.06" text-anchor="middle" font-size="9">T803</text>
<text x="461" y="128.56" text-anchor="middle" font-size="9">pole</text>
<text x="461" y="137.06" text-anchor="middle" font-size="9">L804</text>
<text x="487" y="128.56" text-anchor="middle" font-size="9">D807</text>
<text x="487" y="137.06" text-anchor="middle" font-size="9">RU3AM</text>
<text x="512.4" y="128.56" text-anchor="middle" font-size="9">pole</text>
<text x="512.4" y="137.06" text-anchor="middle" font-size="9">L805</text>
<text x="472" y="153.66" text-anchor="middle" font-size="9">C818</text>
<text x="497.5" y="153.66" text-anchor="middle" font-size="9">470p</text>
<text x="516.3" y="153.66" text-anchor="middle" font-size="9">1kV</text>
<text x="461" y="171.06" text-anchor="middle" font-size="9">pole</text>
<text x="461" y="179.06" text-anchor="middle" font-size="9">L806</text>
<text x="487" y="171.06" text-anchor="middle" font-size="9">D808</text>
<text x="487" y="179.06" text-anchor="middle" font-size="9">FR104</text>
<text x="514.5" y="172.36" text-anchor="middle" font-size="9">pole</text>
<text x="514.5" y="180.16" text-anchor="middle" font-size="9">L807</text>
<text x="472" y="195.96" text-anchor="middle" font-size="9">C821</text>
<text x="498" y="194.06" text-anchor="middle" font-size="9">220p</text>
<text x="522.3" y="194.06" text-anchor="middle" font-size="9">500V</text>
<text x="461" y="215.46" text-anchor="middle" font-size="9">pole</text>
<text x="461" y="223.16" text-anchor="middle" font-size="9">L808</text>
<text x="484.5" y="215.26" text-anchor="middle" font-size="9">D809</text>
<text x="484.5" y="222.96" text-anchor="middle" font-size="9">RG2Y</text>
<text x="512.4" y="215.26" text-anchor="middle" font-size="9">pole</text>
<text x="512.4" y="223.06" text-anchor="middle" font-size="9">L809</text>
<text x="472" y="239.66" text-anchor="middle" font-size="9">C824</text>
<text x="498" y="238.66" text-anchor="middle" font-size="9">220p</text>
<text x="522" y="238.66" text-anchor="middle" font-size="9">500V</text>
<text x="462" y="257.06" text-anchor="middle" font-size="9">pole</text>
<text x="462" y="265.46" text-anchor="middle" font-size="9">L891</text>
<text x="486" y="257.06" text-anchor="middle" font-size="9">D891</text>
<text x="486" y="265.26" text-anchor="middle" font-size="9">RG2Y</text>
<text x="510" y="257.06" text-anchor="middle" font-size="9">pole</text>
<text x="510" y="265.26" text-anchor="middle" font-size="9">L892</text>
<text x="486" y="297.06" text-anchor="middle" font-size="9">C891</text>
<text x="486" y="305.06" text-anchor="middle" font-size="9">220p 500V</text>
<text x="460" y="313.06" text-anchor="middle" font-size="9">pole</text>
<text x="460" y="322.06" text-anchor="middle" font-size="9">L810</text>
<text x="487" y="313.06" text-anchor="middle" font-size="9">D810</text>
<text x="487" y="322.06" text-anchor="middle" font-size="9">FR104</text>
<text x="511" y="313.06" text-anchor="middle" font-size="9">pole</text>
<text x="511" y="322.06" text-anchor="middle" font-size="9">L811</text>
<text x="487" y="357.46" text-anchor="middle" font-size="9">C827</text>
<text x="487" y="365.26" text-anchor="middle" font-size="9">220p  500V</text>
<text x="460" y="393.06" text-anchor="middle" font-size="9">pole</text>
<text x="460" y="402.06" text-anchor="middle" font-size="9">HF70</text>
<text x="486" y="393.06" text-anchor="middle" font-size="9">D806</text>
<text x="486" y="400.56" text-anchor="middle" font-size="9">RU4YX</text>
<text x="512" y="393.06" text-anchor="middle" font-size="9">pole</text>
<text x="512" y="402.06" text-anchor="middle" font-size="9">HF70</text>
<text x="463.6" y="415.06" text-anchor="middle" font-size="9">L812</text>
<text x="512" y="415.06" text-anchor="middle" font-size="9">L813</text>
<text x="485" y="432.66" text-anchor="middle" font-size="9">C830</text>
<text x="485" y="441.06" text-anchor="middle" font-size="9">220p  500V</text>
<text x="549.5" y="125.06" text-anchor="middle" font-size="9">C819</text>
<text x="549.5" y="132.06" text-anchor="middle" font-size="9">10N</text>
<text x="549.5" y="139.06" text-anchor="middle" font-size="9">500V</text>
<text x="570.5" y="125.06" text-anchor="middle" font-size="9">C820</text>
<text x="570.5" y="132.06" text-anchor="middle" font-size="9">220μ</text>
<text x="570.5" y="139.06" text-anchor="middle" font-size="9">200V</text>
<text x="604.4" y="150.36" text-anchor="middle" font-size="9">R830</text>
<text x="604.4" y="157.66" text-anchor="middle" font-size="9">18k</text>
<text x="604.4" y="164.96" text-anchor="middle" font-size="9">2W</text>
<text x="604.7" y="174.06" text-anchor="middle" font-size="9">Q802</text>
<text x="604.7" y="182.66" text-anchor="middle" font-size="9">2SC3852</text>
<text x="536.5" y="207.06" text-anchor="middle" font-size="9">C822</text>
<text x="536.5" y="214.06" text-anchor="middle" font-size="9">10N</text>
<text x="536.5" y="221.06" text-anchor="middle" font-size="9">500V</text>
<text x="587.3" y="193.06" text-anchor="middle" font-size="9">C823</text>
<text x="587.3" y="200.76" text-anchor="middle" font-size="9">33μ</text>
<text x="587.3" y="208.46" text-anchor="middle" font-size="9">160V</text>
<text x="538.8" y="250.76" text-anchor="middle" font-size="9">C825</text>
<text x="538.8" y="258.36" text-anchor="middle" font-size="9">0.1μ</text>
<text x="538.8" y="265.96" text-anchor="middle" font-size="9">50V</text>
<text x="590.7" y="235.66" text-anchor="middle" font-size="9">C826</text>
<text x="590.7" y="243.86" text-anchor="middle" font-size="9">2200μ</text>
<text x="590.7" y="252.06" text-anchor="middle" font-size="9">16V</text>
<text x="622" y="209.56" text-anchor="middle" font-size="9">D813</text>
<text x="622" y="216.76" text-anchor="middle" font-size="9">8V1</text>
<text x="622" y="223.96" text-anchor="middle" font-size="9">1/2W</text>
<text x="676.5" y="210.66" text-anchor="middle" font-size="9">C833</text>
<text x="676.5" y="218.16" text-anchor="middle" font-size="9">220p</text>
<text x="676.5" y="225.66" text-anchor="middle" font-size="9">50V</text>
<text x="567" y="280.06" text-anchor="middle" font-size="9">R891</text>
<text x="567" y="287.36" text-anchor="middle" font-size="9">2.2</text>
<text x="567" y="294.66" text-anchor="middle" font-size="9">1W</text>
<text x="597.5" y="281.46" text-anchor="middle" font-size="9">C893</text>
<text x="597.5" y="288.76" text-anchor="middle" font-size="9">0.1μ</text>
<text x="597.5" y="296.06" text-anchor="middle" font-size="9">50V</text>
<text x="651" y="280.06" text-anchor="middle" font-size="9">C892</text>
<text x="651" y="287.56" text-anchor="middle" font-size="9">1000μ</text>
<text x="651" y="295.06" text-anchor="middle" font-size="9">16V</text>
<text x="629.3" y="159.26" text-anchor="middle" font-size="9">R826</text>
<text x="629.3" y="165.46" text-anchor="middle" font-size="9">10k</text>
<text x="629.3" y="171.66" text-anchor="middle" font-size="9">3W</text>
<text x="663.4" y="160.96" text-anchor="middle" font-size="9">R816 1k</text>
<text x="668.3" y="168.76" text-anchor="middle" font-size="9">1/4W</text>
<text x="663.8" y="193.16" text-anchor="middle" font-size="9">R818</text>
<text x="663.8" y="200.96" text-anchor="middle" font-size="9">3k3 1/2W</text>
<text x="717" y="130.56" text-anchor="middle" font-size="9">R824</text>
<text x="717" y="137.76" text-anchor="middle" font-size="9">3.3k</text>
<text x="717" y="144.96" text-anchor="middle" font-size="9">1/4W</text>
<text x="717" y="160.56" text-anchor="middle" font-size="9">R816A</text>
<text x="717" y="167.46" text-anchor="middle" font-size="9">1k</text>
<text x="717" y="174.36" text-anchor="middle" font-size="9">1/4W</text>
<text x="716.9" y="188.06" text-anchor="middle" font-size="9">C836</text>
<text x="716.9" y="195.56" text-anchor="middle" font-size="9">220p</text>
<text x="716.9" y="203.06" text-anchor="middle" font-size="9">50V</text>
<text x="677.2" y="104.06" text-anchor="middle" font-size="9">1/2IC803</text>
<text x="677.2" y="112.06" text-anchor="middle" font-size="9">TLP621</text>
<text x="758" y="125.36" text-anchor="middle" font-size="9">R829</text>
<text x="758" y="131.66" text-anchor="middle" font-size="9">0</text>
<text x="771.2" y="147.56" text-anchor="middle" font-size="9">IC802</text>
<text x="771.2" y="155.06" text-anchor="middle" font-size="9">SE140N</text>
<text x="791" y="101.06" text-anchor="middle" font-size="9">L801</text>
<text x="791" y="109.26" text-anchor="middle" font-size="9">100μH</text>
<text x="751.5" y="207.46" text-anchor="middle" font-size="9">D811</text>
<text x="751.5" y="215.46" text-anchor="middle" font-size="9">FR104</text>
<text x="791.4" y="194.26" text-anchor="middle" font-size="9">L815</text>
<text x="791.4" y="201.06" text-anchor="middle" font-size="9">0</text>
<text x="713.5" y="244.66" text-anchor="middle" font-size="9">Q803</text>
<text x="713.5" y="255.46" text-anchor="middle" font-size="9">2SC2230Y</text>
<text x="790" y="237.06" text-anchor="middle" font-size="9">R851</text>
<text x="790" y="245.06" text-anchor="middle" font-size="9">33k</text>
<text x="780.8" y="261.66" text-anchor="middle" font-size="9">C835</text>
<text x="780.8" y="268.86" text-anchor="middle" font-size="9">33k</text>
<text x="825.3" y="204.56" text-anchor="middle" font-size="9">+9V</text>
<text x="828" y="226.06" text-anchor="middle" font-size="9">GND</text>
<text x="826" y="247.66" text-anchor="middle" font-size="9">CPU</text>
<text x="826" y="284.36" text-anchor="middle" font-size="9">+142V</text>
<text x="827" y="304.56" text-anchor="middle" font-size="9">GND</text>
<text x="823.5" y="321.46" text-anchor="middle" font-size="9">+12V</text>
<text x="826" y="384.46" text-anchor="middle" font-size="9">GND</text>
<text x="824.4" y="404.26" text-anchor="middle" font-size="9">+32V</text>
<text x="829" y="437.46" text-anchor="middle" font-size="9">+9V</text>
<text x="828" y="460.86" text-anchor="middle" font-size="9">GND</text>
<text x="833.4" y="484.26" text-anchor="middle" font-size="9">B+</text>
<text x="0" y="0" text-anchor="middle" font-size="8.5" transform="translate(874.29,228.5) rotate(-90)">TD MAIN</text>
<text x="0" y="0" text-anchor="middle" font-size="8.2" transform="translate(882.79,228.5) rotate(-90)">BDARD P002</text>
<text x="0" y="0" text-anchor="middle" font-size="8.5" transform="translate(874.29,311.5) rotate(-90)">TD MAIN</text>
<text x="0" y="0" text-anchor="middle" font-size="8.2" transform="translate(882.79,311.5) rotate(-90)">BDARD P404</text>
<text x="0" y="0" text-anchor="middle" font-size="8.5" transform="translate(874.29,391.3) rotate(-90)">TD MAIN</text>
<text x="0" y="0" text-anchor="middle" font-size="8.2" transform="translate(882.79,391.3) rotate(-90)">BDARD P907</text>
<text x="0" y="0" text-anchor="middle" font-size="8.8" transform="translate(875.59,459.8) rotate(-90)">TD PIP BD XP101</text>
<text x="675" y="315.46" text-anchor="middle" font-size="9">Q804</text>
<text x="675" y="324.06" text-anchor="middle" font-size="9">2SC3852</text>
<text x="638.5" y="335.06" text-anchor="middle" font-size="9">R828</text>
<text x="638.5" y="342.36" text-anchor="middle" font-size="9">150</text>
<text x="638.5" y="349.66" text-anchor="middle" font-size="9">1/4W</text>
<text x="543" y="335.66" text-anchor="middle" font-size="9">C828</text>
<text x="543" y="343.86" text-anchor="middle" font-size="9">0.1μ</text>
<text x="543" y="352.06" text-anchor="middle" font-size="9">50V</text>
<text x="592.2" y="335.66" text-anchor="middle" font-size="9">C829</text>
<text x="592.2" y="343.86" text-anchor="middle" font-size="9">470μ</text>
<text x="592.2" y="352.06" text-anchor="middle" font-size="9">25V</text>
<text x="608" y="360.46" text-anchor="middle" font-size="9">C832</text>
<text x="608" y="368.26" text-anchor="middle" font-size="9">100μ</text>
<text x="608" y="376.06" text-anchor="middle" font-size="9">16V</text>
<text x="693.6" y="363.06" text-anchor="middle" font-size="9">D812</text>
<text x="693.6" y="370.06" text-anchor="middle" font-size="9">12V</text>
<text x="757" y="335.46" text-anchor="middle" font-size="9">L816</text>
<text x="757" y="344.06" text-anchor="middle" font-size="9">100μH</text>
<text x="639.6" y="387.06" text-anchor="middle" font-size="9">R833</text>
<text x="625" y="402.06" text-anchor="middle" font-size="9">2W</text>
<text x="648" y="402.06" text-anchor="middle" font-size="9">FUSE.</text>
<text x="545.6" y="424.06" text-anchor="middle" font-size="9">C831</text>
<text x="545.6" y="432.06" text-anchor="middle" font-size="9">0.1μ</text>
<text x="545.6" y="440.06" text-anchor="middle" font-size="9">50V</text>
<text x="614" y="420.66" text-anchor="middle" font-size="9">C813</text>
<text x="614" y="428.66" text-anchor="middle" font-size="9">2200μ</text>
<text x="614" y="436.66" text-anchor="middle" font-size="9">50V</text>
<text x="693.5" y="424.06" text-anchor="middle" font-size="9">R832</text>
<text x="693.5" y="431.56" text-anchor="middle" font-size="9">1k</text>
<text x="693.5" y="439.06" text-anchor="middle" font-size="9">1W</text>
<text x="103.8" y="255.06" text-anchor="middle" font-size="9">C811</text>
<text x="103.8" y="263.56" text-anchor="middle" font-size="9">2200p</text>
<text x="103.8" y="272.06" text-anchor="middle" font-size="9">1.6kV</text>
<text x="73" y="289.06" text-anchor="middle" font-size="9">R811</text>
<text x="73" y="296.56" text-anchor="middle" font-size="9">1.1W</text>
<text x="73" y="304.06" text-anchor="middle" font-size="9">M.F.</text>
<text x="125.2" y="284.06" text-anchor="middle" font-size="9">R810</text>
<text x="125.2" y="291.06" text-anchor="middle" font-size="9">0.18</text>
<text x="125.2" y="298.06" text-anchor="middle" font-size="9">2W</text>
<text x="125.2" y="305.06" text-anchor="middle" font-size="9">M.F.</text>
<text x="116" y="238.66" text-anchor="start" font-size="9">pole L814</text>
<text x="252.7" y="278.46" text-anchor="middle" font-size="9">C812</text>
<text x="252.7" y="286.16" text-anchor="middle" font-size="9">0.033μ</text>
<text x="252.7" y="293.86" text-anchor="middle" font-size="9">100V</text>
<text x="252.7" y="301.56" text-anchor="middle" font-size="9">P.P.</text>
<text x="285" y="278.46" text-anchor="middle" font-size="9">R807</text>
<text x="285" y="286.16" text-anchor="middle" font-size="9">27</text>
<text x="285" y="293.86" text-anchor="middle" font-size="9">3W</text>
<text x="285" y="301.56" text-anchor="middle" font-size="9">M.D.</text>
<text x="127.5" y="345.66" text-anchor="middle" font-size="9">C815</text>
<text x="127.5" y="352.76" text-anchor="middle" font-size="9">22μ</text>
<text x="127.5" y="359.86" text-anchor="middle" font-size="9">160V</text>
<text x="86" y="355.46" text-anchor="middle" font-size="9">R812A</text>
<text x="86" y="362.66" text-anchor="middle" font-size="9">100 1/4W</text>
<text x="128.5" y="381.06" text-anchor="middle" font-size="9">R812</text>
<text x="128.5" y="389.06" text-anchor="middle" font-size="9">100 1/4W</text>
<text x="88" y="412.06" text-anchor="middle" font-size="9">C814</text>
<text x="88" y="419.06" text-anchor="middle" font-size="9">47μ</text>
<text x="88" y="426.06" text-anchor="middle" font-size="9">160V</text>
<text x="0" y="0" text-anchor="middle" font-size="9" transform="translate(25.66,361.8) rotate(-90)">IC801   STRS6308</text>
<text x="172" y="345.56" text-anchor="middle" font-size="9">R806</text>
<text x="172" y="352.46" text-anchor="middle" font-size="9">22</text>
<text x="172" y="359.36" text-anchor="middle" font-size="9">5W</text>
<text x="172" y="366.26" text-anchor="middle" font-size="9">M.D.</text>
<text x="234.2" y="347.06" text-anchor="middle" font-size="9">C837</text>
<text x="234.2" y="354.56" text-anchor="middle" font-size="9">220p</text>
<text x="234.2" y="362.06" text-anchor="middle" font-size="9">500V</text>
<text x="200" y="379.31" text-anchor="middle" font-size="9">D803</text>
<text x="200" y="386.51" text-anchor="middle" font-size="9">EG1Z</text>
<text x="239.5" y="385.96" text-anchor="middle" font-size="9">R809</text>
<text x="239.5" y="393.46" text-anchor="middle" font-size="9">1.2k</text>
<text x="239.5" y="400.96" text-anchor="middle" font-size="9">1/4W</text>
<text x="269.1" y="394.56" text-anchor="middle" font-size="9">C838</text>
<text x="269.1" y="402.16" text-anchor="middle" font-size="9">220p</text>
<text x="269.1" y="409.76" text-anchor="middle" font-size="9">500V</text>
<text x="208.4" y="411.81" text-anchor="middle" font-size="9">C839</text>
<text x="208.4" y="419.51" text-anchor="middle" font-size="9">220p</text>
<text x="208.4" y="427.21" text-anchor="middle" font-size="9">500V</text>
<text x="223.75" y="435.56" text-anchor="middle" font-size="9">D805</text>
<text x="223.75" y="442.56" text-anchor="middle" font-size="9">EU1Z</text>
<text x="269.5" y="441.81" text-anchor="middle" font-size="9">D804</text>
<text x="269.5" y="448.61" text-anchor="middle" font-size="9">EU1Z</text>
<text x="271.5" y="456.36" text-anchor="middle" font-size="9">C816</text>
<text x="271.4" y="462.86" text-anchor="middle" font-size="9">1N</text>
<text x="271.4" y="470.36" text-anchor="middle" font-size="9">50V</text>
<text x="271.4" y="477.86" text-anchor="middle" font-size="9">P.P.</text>
<text x="95.6" y="453.66" text-anchor="middle" font-size="9">R813</text>
<text x="95.6" y="461.56" text-anchor="middle" font-size="9">240</text>
<text x="95.6" y="469.46" text-anchor="middle" font-size="9">1/4W</text>
<text x="142.5" y="453.66" text-anchor="middle" font-size="9">R813A</text>
<text x="143" y="461.46" text-anchor="middle" font-size="9">240</text>
<text x="143" y="469.46" text-anchor="middle" font-size="9">1/4W</text>
<text x="176.5" y="453.26" text-anchor="middle" font-size="9">R825</text>
<text x="176.5" y="459.86" text-anchor="middle" font-size="9">100</text>
<text x="176.5" y="466.46" text-anchor="middle" font-size="9">1/4W</text>
<text x="176.5" y="492.86" text-anchor="middle" font-size="9">R825A</text>
<text x="176.5" y="499.66" text-anchor="middle" font-size="9">100</text>
<text x="176.5" y="506.46" text-anchor="middle" font-size="9">1/4W</text>
<text x="138.5" y="498.06" text-anchor="middle" font-size="9">Q801</text>
<text x="135.7" y="507.06" text-anchor="middle" font-size="9">2SA817AY</text>
<text x="202.6" y="488.66" text-anchor="middle" font-size="9">R814</text>
<text x="202.6" y="496.16" text-anchor="middle" font-size="9">12k</text>
<text x="202.6" y="503.66" text-anchor="middle" font-size="9">1/4W</text>
<text x="235.5" y="492.26" text-anchor="middle" font-size="9">1/2IC803</text>
<text x="235.5" y="501.56" text-anchor="middle" font-size="9">TLP621</text>
<text x="348.5" y="483.86" text-anchor="middle" font-size="9">R815A</text>
<text x="348.5" y="491.06" text-anchor="middle" font-size="9">4.7M</text>
<text x="348.5" y="498.26" text-anchor="middle" font-size="9">1/2WC.C</text>
<text x="398.5" y="483.86" text-anchor="middle" font-size="9">R815</text>
<text x="398.5" y="491.06" text-anchor="middle" font-size="9">4.7M</text>
<text x="398.5" y="498.26" text-anchor="middle" font-size="9">1/2W C.C</text>
<text x="374.5" y="510.36" text-anchor="middle" font-size="9">C817</text>
<text x="359.3" y="518.76" text-anchor="middle" font-size="9">2200p</text>
<text x="392.2" y="518.76" text-anchor="middle" font-size="9">AC400V</text>
</g>
<text x="0" y="0" fill-opacity="0.62" font-family="Liberation Sans, sans-serif" font-size="63" fill="rgb(248,0,8)" transform="translate(83.2,366) rotate(-37)">www.elecfans.com</text>
<defs><filter id="bl" x="-20%" y="-50%" width="140%" height="200%"><feGaussianBlur stdDeviation="2.2"/></filter></defs>
<rect x="764.2" y="495.4" width="120" height="39.6" fill="rgb(196,100,106)" stroke="rgb(130,100,105)" stroke-width="1"/>
<rect x="765" y="527" width="119" height="8" fill="rgb(206,114,120)" filter="url(#bl)"/>
<polygon points="768,504 800,503 872,505 873,513 835,516 800,522 770,523" fill="rgb(98,76,84)" filter="url(#bl)" opacity="0.95"/>
<g stroke="rgb(252,228,232)" stroke-width="2" fill="none" stroke-linecap="round" stroke-linejoin="round">
<path d="M769,507.5 h9 v8 h-9 z M769,511.5 h9 M773.5,503.5 v16.5 q0,2 3,2 h3"/>
<path d="M782,505 h9 l-4.5,4.5 M781,512 h11.5 M786.5,509.5 v10.5 q0,2 -2.5,1.5"/>
<path d="M797,505 l2,3 M801,503.5 v6 M796,509.5 h11 M802,509.5 l-5.5,12 M799,514 h7 l-8,7.5 M800,515 l7.5,6.5 M805,504.5 l2,2"/>
<path d="M811.5,506 v13 M809.5,509 l1,3 M814,508 l-2,4 M811.5,515 l-2.5,6 M811.5,515 l3,4 M815.5,506 h5.5 M815,510 h6.5 M818.5,503.5 v6.5 M816,513 h5.5 M818,513 l-2.5,8 M820,513 v7 h2"/>
<path d="M823.5,509 h11.5 M829.5,503.5 l-1,6.5 l-5.5,12 M828,513.5 h6.5 l-8.5,8 M828.5,514.5 l6.5,6.5"/>
</g>
<text x="837" y="520.6" font-family="Liberation Sans, sans-serif" font-size="10.5" font-weight="bold" fill="rgb(252,228,232)" textLength="52" lengthAdjust="spacingAndGlyphs">Elec<tspan fill="rgb(240,70,80)">F</tspan>ans.com</text>

</svg>
</body></html>
